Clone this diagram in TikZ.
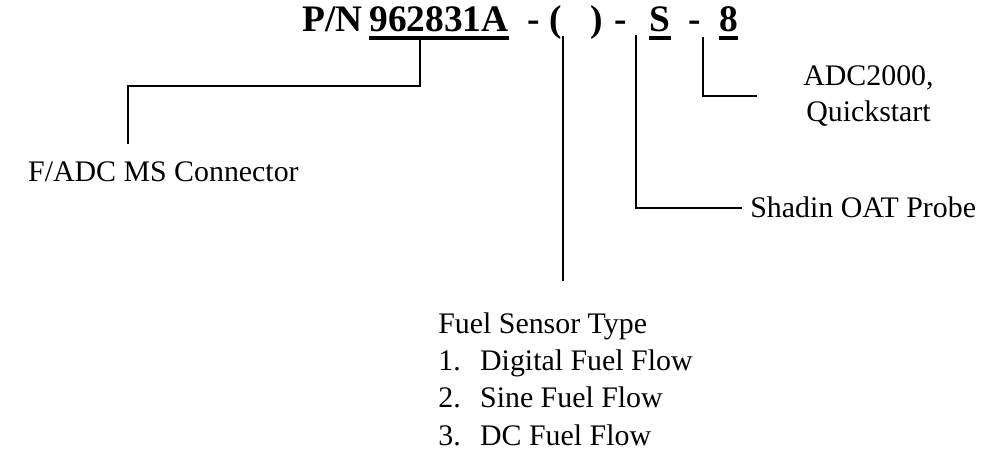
\documentclass[tikz,border=0pt]{standalone}
\usepackage{fontspec}
\setmainfont{Liberation Serif}
\usetikzlibrary{positioning, calc}
\tikzset{
  pntext/.style={
    font=\fontsize{21.3}{25}\selectfont\bfseries,
    inner sep=0pt,
    anchor=base west
  },
  notetext/.style={
    font=\fontsize{17}{21}\selectfont,
    inner sep=0pt,
    anchor=base west
  },
  pnrule/.style={
    line width=2pt
  },
  leader/.style={
    line width=1pt
  }
}

\begin{document}
\begin{tikzpicture}[x=0.02cm, y=-0.02cm]
  \useasboundingbox (0,0) rectangle (1000,455);
  % part number, piece by piece
  \node[pntext] (pn) at (302,32) {P/N};
  \node[pntext] (pnum) at (369,32) {962831A};
  \node[pntext] (d1) at (527,32) {-};
  \node[pntext] (lp) at (549,32) {(};
  \node[pntext] (blank) at (562,32) {\hspace{15.9pt}};
  \node[pntext] (rp) at (590,32) {)};
  \node[pntext] (d2) at (614,32) {-};
  \node[pntext] (opt) at (649,32) {S};
  \node[pntext] (d3) at (688,32) {-};
  \node[pntext] (len) at (719,32) {8};
  \foreach \p in {pnum, blank, opt, len}
    \draw[pnrule] ($(\p.base west)+(0,6)$) -- ($(\p.base east)+(0,6)$);

  % notes
  \node[notetext, anchor=base east] (conn) at (299,182) {F/ADC MS Connector};
  \node[notetext] (fuel) at (438,334) {Fuel Sensor Type};
  \foreach \t [count=\i] in {Digital Fuel Flow, Sine Fuel Flow, DC Fuel Flow}
    \node[notetext] (ft\i) at (438,334+37*\i) {\makebox[23.8pt][l]{\i.}\t};
  \node[notetext] (oat) at (750,218) {Shadin OAT Probe};
  \node[notetext, align=center, anchor=west] (adc) at (803,96) {ADC2000,\\Quickstart};

  % leaders
  \coordinate (k1) at (128,86);
  \draw[leader, shorten >=10pt] ($(pnum.base west)+(51,6)$) |- (k1) -- (k1 |- conn.north);
  \draw[leader, shorten >=18pt] ($(blank.base)+(0,6)$) -- (blank.base |- fuel.north);
  \draw[leader, shorten >=4.5pt] ($(opt.base west)+(-13,3)$) |- (oat.west);
  \draw[leader, shorten >=26pt] ($(len.base west)+(-16,5)$) |- (adc.west);
\end{tikzpicture}
\end{document}
